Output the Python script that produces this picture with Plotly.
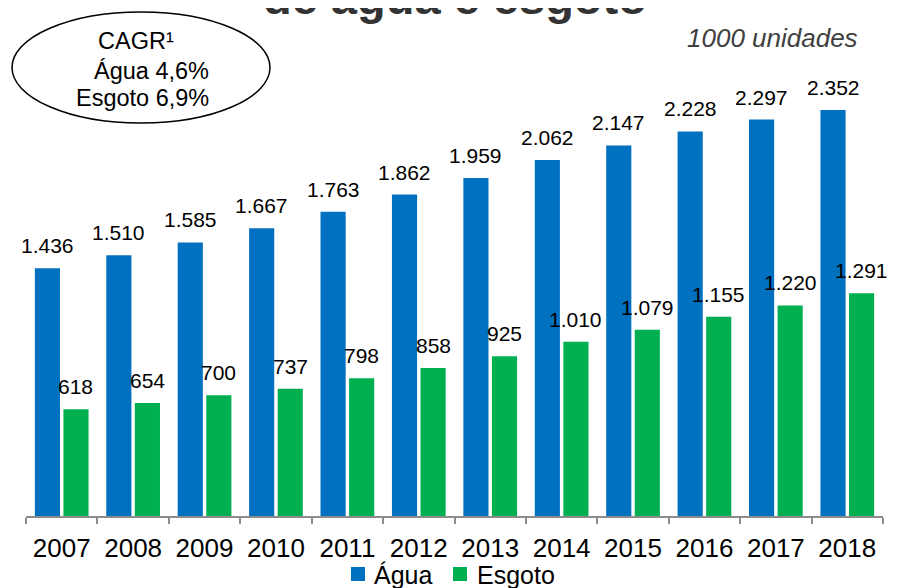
import plotly.graph_objects as go

years = ["2007", "2008", "2009", "2010", "2011", "2012",
         "2013", "2014", "2015", "2016", "2017", "2018"]
agua = [1436, 1510, 1585, 1667, 1763, 1862, 1959, 2062, 2147, 2228, 2297, 2352]
esgoto = [618, 654, 700, 737, 798, 858, 925, 1010, 1079, 1155, 1220, 1291]
series_names = ["Água", "Esgoto"]

title_text = "de água e esgoto"
unit_text = "1000 unidades"
cagr_lines = ["CAGR¹", "Água 4,6%", "Esgoto 6,9%"]

BLUE = "#0070C0"
GREEN = "#00B050"
FONT = "Liberation Sans"

W, H = 897, 588
OFF = 8  # page body margin offset
# plot area in page pixels: x 26..883, y 90..516
ML = 26 - OFF
MT = 90 - OFF
MR = W - (883 - OFF)
MB = H - (516 - OFF)
PW = W - ML - MR
PH = H - MT - MB


def px(x):
    return (x - OFF - ML) / PW


def py(y):
    return (H - MB - (y - OFF)) / PH


def fmt(v):
    return f"{v:,}".replace(",", ".")


fig = go.Figure()
fig.add_trace(go.Bar(x=years, y=agua, name=series_names[0], marker_color=BLUE,
                     marker_line_width=0, showlegend=False))
fig.add_trace(go.Bar(x=years, y=esgoto, name=series_names[1], marker_color=GREEN,
                     marker_line_width=0, showlegend=False))

slot = PW / len(years) * 0.8 / 2
annotations = []
for series, shift in ((agua, -slot / 2), (esgoto, slot / 2)):
    for i, v in enumerate(series):
        annotations.append(dict(
            x=i, y=v, xref="x", yref="y", text=fmt(v), showarrow=False,
            xshift=shift, yanchor="bottom", yshift=9,
            font=dict(family=FONT, size=21, color="#000000")))

annotations.append(dict(
    x=px(455), y=py(26), xref="paper", yref="paper", text=f"<b>{title_text}</b>",
    showarrow=False, xanchor="center", yanchor="bottom",
    font=dict(family=FONT, size=47, color="#333333")))
annotations.append(dict(
    x=px(860), y=py(38), xref="paper", yref="paper", text=f"<i>{unit_text}</i>",
    showarrow=False, xanchor="right", yanchor="middle",
    font=dict(family=FONT, size=26, color="#404040")))
annotations.append(dict(
    x=px(96), y=py(41), xref="paper", yref="paper", text=cagr_lines[0],
    showarrow=False, xanchor="left", yanchor="middle",
    font=dict(family=FONT, size=23.5, color="#000000")))
annotations.append(dict(
    x=px(211), y=py(71), xref="paper", yref="paper", text=cagr_lines[1],
    showarrow=False, xanchor="right", yanchor="middle",
    font=dict(family=FONT, size=23.5, color="#000000")))
annotations.append(dict(
    x=px(211), y=py(98), xref="paper", yref="paper", text=cagr_lines[2],
    showarrow=False, xanchor="right", yanchor="middle",
    font=dict(family=FONT, size=23.5, color="#000000")))

shapes = [dict(type="circle", xref="paper", yref="paper",
               x0=px(12), x1=px(270), y0=py(123), y1=py(12),
               line=dict(color="#000000", width=1.5))]

# manual legend (squares + labels) below the axis
legend_items = [(series_names[0], BLUE, 351, 372), (series_names[1], GREEN, 453, 475)]
for name, col, sx, tx in legend_items:
    shapes.append(dict(type="rect", xref="paper", yref="paper",
                       x0=px(sx), x1=px(sx + 14), y0=py(581), y1=py(567),
                       fillcolor=col, line=dict(width=0)))
    annotations.append(dict(
        x=px(tx), y=py(575), xref="paper", yref="paper", text=name,
        showarrow=False, xanchor="left", yanchor="middle",
        font=dict(family=FONT, size=25, color="#000000")))

fig.update_layout(
    width=W, height=H,
    margin=dict(l=ML, r=MR, t=MT, b=MB, pad=0),
    paper_bgcolor="white", plot_bgcolor="white",
    barmode="group", bargap=0.2, bargroupgap=0.12,
    showlegend=False,
    annotations=annotations,
    shapes=shapes,
    font=dict(family=FONT),
)
fig.update_xaxes(
    type="category", range=[-0.5, len(years) - 0.5],
    showline=True, linecolor="#8c8c8c", linewidth=1.5,
    ticks="outside", tickson="boundaries", ticklen=6, tickcolor="#8c8c8c",
    tickwidth=1.5, showgrid=False, automargin=False,
    tickfont=dict(family=FONT, size=26, color="#000000"),
    ticklabelstandoff=8,
)
fig.update_yaxes(visible=False, range=[0, PH / 0.1726], showgrid=False,
                 zeroline=False, automargin=False)

fig.write_html("out.html")
